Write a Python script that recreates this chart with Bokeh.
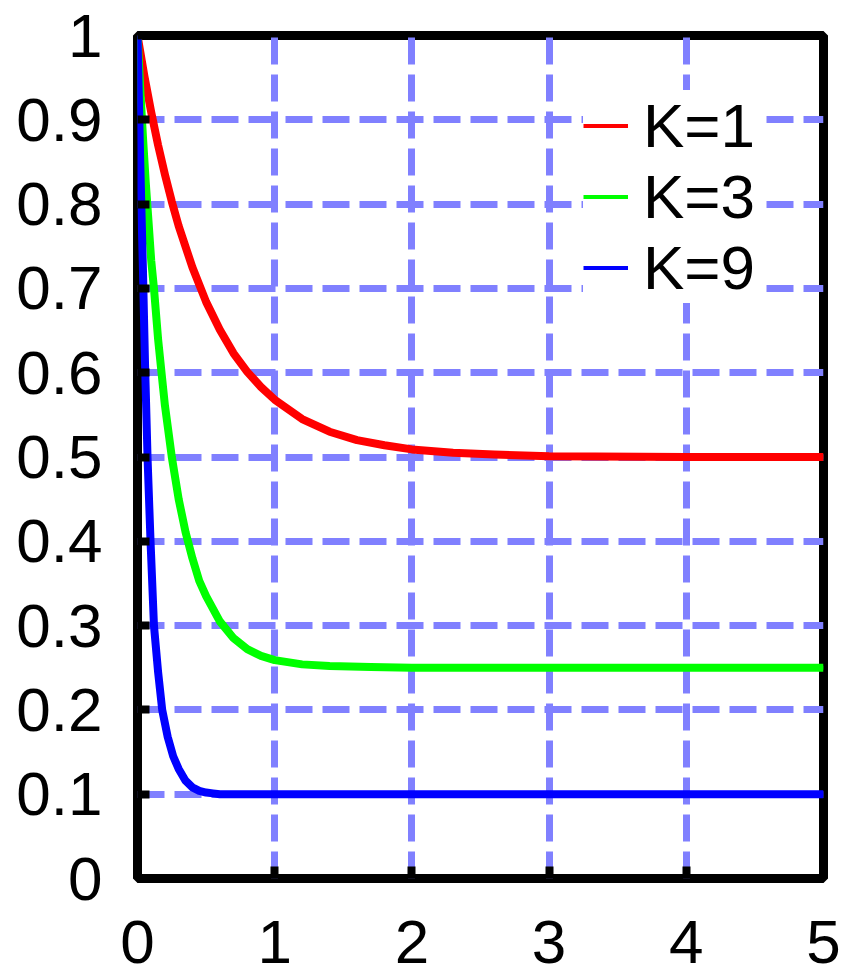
from bokeh.plotting import figure
from bokeh.models import FixedTicker, Legend, LegendItem, Range1d
from bokeh.embed import file_html
from bokeh.resources import INLINE

# Time axis samples and the three response curves (K = 1, 3, 9)
t_k1 = [0, 0.05, 0.1, 0.15, 0.2, 0.25, 0.3, 0.4, 0.5, 0.6, 0.7, 0.8, 0.9, 1.0,
        1.2, 1.4, 1.6, 1.8, 2.0, 2.3, 2.6, 3.0, 4.0, 5.0]
y_k1 = [1.0, 0.952, 0.909, 0.870, 0.835, 0.803, 0.774, 0.725, 0.684, 0.651,
        0.623, 0.601, 0.583, 0.568, 0.545, 0.530, 0.520, 0.514, 0.509, 0.505,
        0.503, 0.501, 0.500, 0.500]

t_k3 = [0, 0.02, 0.04, 0.06, 0.08, 0.1, 0.12, 0.15, 0.175, 0.2, 0.25, 0.3,
        0.35, 0.4, 0.45, 0.5, 0.6, 0.7, 0.8, 0.9, 1.0, 1.2, 1.4, 1.7, 2.0,
        3.0, 4.0, 5.0]
y_k3 = [1.0, 0.937, 0.879, 0.826, 0.780, 0.733, 0.700, 0.640, 0.600, 0.561,
        0.500, 0.450, 0.411, 0.380, 0.353, 0.335, 0.305, 0.285, 0.272, 0.264,
        0.259, 0.254, 0.252, 0.251, 0.250, 0.250, 0.250, 0.250]

t_k9 = [0, 0.02, 0.04, 0.055, 0.073, 0.095, 0.12, 0.15, 0.18, 0.22, 0.26, 0.3,
        0.35, 0.4, 0.45, 0.5, 0.55, 0.6, 1.0, 2.0, 3.0, 4.0, 5.0]
y_k9 = [1.0, 0.85, 0.72, 0.61, 0.5, 0.4, 0.3, 0.245, 0.2, 0.168, 0.145, 0.13,
        0.116, 0.108, 0.104, 0.102, 0.101, 0.100, 0.100, 0.100, 0.100, 0.100,
        0.100]

series_labels = ["K=1", "K=3", "K=9"]
series_colors = ["#ff0000", "#00ff00", "#0000ff"]

x_ticks = [0, 1, 2, 3, 4, 5]
x_tick_labels = ["0", "1", "2", "3", "4", "5"]
y_ticks = [0, 0.1, 0.2, 0.3, 0.4, 0.5, 0.6, 0.7, 0.8, 0.9, 1.0]
y_tick_labels = ["0", "0.1", "0.2", "0.3", "0.4", "0.5", "0.6", "0.7", "0.8", "0.9", "1"]

FONT = "Liberation Sans"
FONT_SIZE = "62px"
GRID_COLOR = "#8080ff"

p = figure(
    frame_width=686, frame_height=843,
    min_border_left=137, min_border_right=32,
    min_border_top=35, min_border_bottom=102,
    x_range=Range1d(0, 5), y_range=Range1d(0, 1),
    output_backend="svg", toolbar_location=None,
    background_fill_color="white", border_fill_color="white",
)

p.outline_line_color = "black"
p.outline_line_width = 9
p.outline_line_alpha = 1.0

# dashed blue grid
for g in (p.xgrid, p.ygrid):
    g.grid_line_color = GRID_COLOR
    g.grid_line_width = 7
    g.grid_line_dash = "27 10"

p.xaxis.ticker = FixedTicker(ticks=x_ticks)
p.yaxis.ticker = FixedTicker(ticks=y_ticks)
p.xaxis.major_label_overrides = {t: s for t, s in zip(x_ticks, x_tick_labels)}
p.yaxis.major_label_overrides = {t: s for t, s in zip(y_ticks, y_tick_labels)}

for ax in (p.xaxis, p.yaxis):
    ax.axis_line_color = None
    ax.major_tick_in = 12
    ax.major_tick_out = 0
    ax.major_tick_line_width = 8
    ax.major_tick_line_color = "black"
    ax.minor_tick_line_color = None
    ax.major_label_text_font = FONT
    ax.major_label_text_font_size = FONT_SIZE
    ax.major_label_text_color = "black"

p.yaxis.major_label_standoff = 35
p.xaxis.major_label_standoff = 42

curves = [(t_k1, y_k1), (t_k3, y_k3), (t_k9, y_k9)]
items = []
for (tx, ty), label, color in zip(curves, series_labels, series_colors):
    # thin copy underneath; it provides the slimmer legend swatch
    swatch = p.line(tx, ty, line_color=color, line_width=4)
    p.line(tx, ty, line_color=color, line_width=8, line_join="round")
    items.append(LegendItem(label=label, renderers=[swatch]))

legend = Legend(
    items=items,
    location=(446, 575),
    orientation="vertical",
    label_text_font=FONT,
    label_text_font_size=FONT_SIZE,
    label_text_color="black",
    label_standoff=15,
    label_width=116,
    label_height=71,
    glyph_width=45,
    glyph_height=71,
    spacing=0,
    padding=2,
    margin=0,
    border_line_color=None,
    background_fill_color="white",
    background_fill_alpha=1.0,
)
p.add_layout(legend, "center")

open("out.html", "w").write(file_html(p, INLINE))
